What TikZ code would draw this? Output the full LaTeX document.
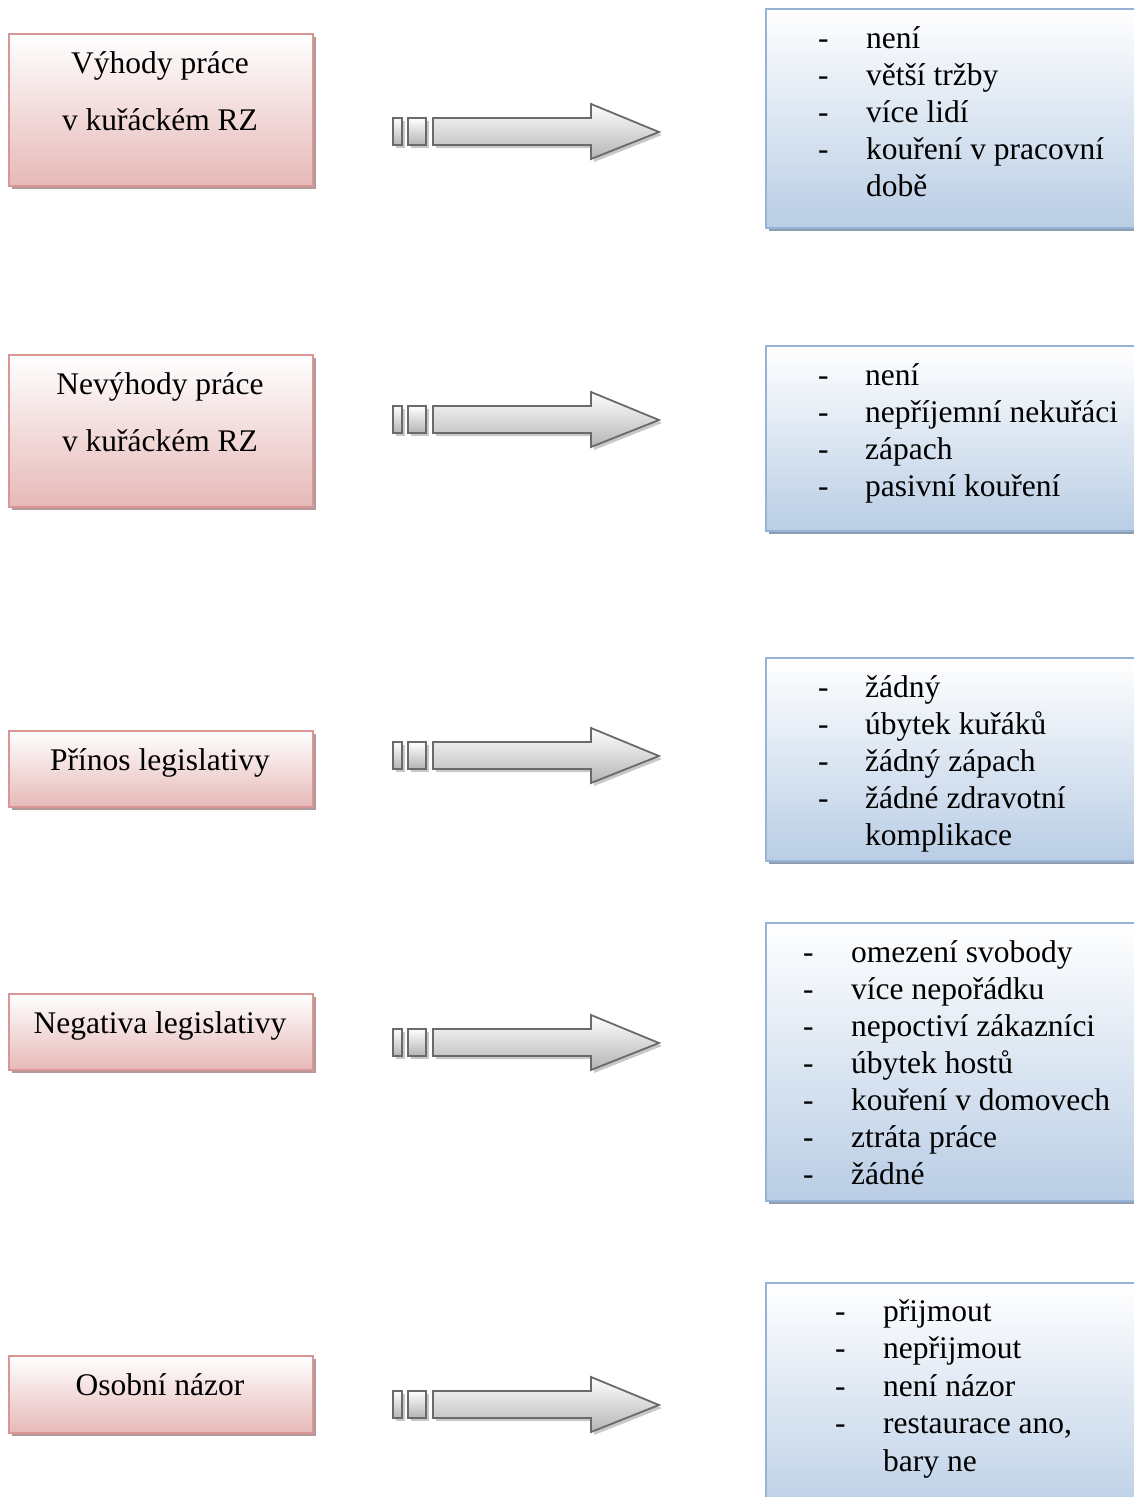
\documentclass[tikz,border=0pt]{standalone}
\usepackage{fontspec}
\setmainfont{Liberation Serif}
\usetikzlibrary{shadows}
\definecolor{pinkB}{HTML}{E6B9B8}
\definecolor{pinkD}{HTML}{D99694}
\definecolor{pinkS}{HTML}{B39A9A}
\definecolor{blueB}{HTML}{B9CDE5}
\definecolor{blueD}{HTML}{95B3D7}
\definecolor{blueS}{HTML}{8E9DB0}
\definecolor{arrD}{HTML}{6A6A6A}
\definecolor{arrB}{HTML}{B4B4B4}
\definecolor{arrS}{HTML}{C8C8C8}
\newcommand\ltxt{\fontsize{31.5}{57}\selectfont}
\newcommand\rtxt{\fontsize{31.5}{37}\selectfont}
\newcommand\rtxtb{\fontsize{31.5}{37.5}\selectfont}
\begin{document}
\begin{tikzpicture}[x=1pt,y=-1pt,
  lbox/.style={draw=pinkD, line width=2pt, top color=white, bottom color=pinkB,
    anchor=north west, inner sep=0pt, minimum width=304pt,
    drop shadow={shadow xshift=3pt, shadow yshift=-3pt, fill=pinkS, opacity=1}},
  rbox/.style={draw=blueD, line width=2pt, top color=white, bottom color=blueB,
    anchor=north west, inner sep=0pt, minimum width=390pt,
    drop shadow={shadow xshift=3pt, shadow yshift=-3pt, fill=blueS, opacity=1}},
  ltext/.style={anchor=base, inner sep=0pt, font=\ltxt},
  rtext/.style={anchor=base west, inner sep=0pt, font=\rtxt},
  arr/.style={draw=arrD, line width=1.8pt, top color=white, bottom color=arrB,
    drop shadow={shadow xshift=3pt, shadow yshift=-3pt, fill=arrS, opacity=1}},
  barrow/.pic={
    \path[arr] (393,-14) rectangle (402,13);
    \path[arr] (408,-14) rectangle (426,13);
    \path[arr] (433,-14) -- (591,-14) -- (591,-28) -- (659,0) -- (591,27)
      -- (591,13) -- (433,13) -- cycle;
  }]
\clip (0,0) rectangle (1134,1497);
\fill[white] (0,0) rectangle (1134,1497);

% left boxes
\node[lbox, minimum height=152pt] (l1) at (8,33) {};
\node[lbox, minimum height=152pt] (l2) at (8,354) {};
\node[lbox, minimum height=76pt] (l3) at (8,730) {};
\node[lbox, minimum height=76pt] (l4) at (8,993) {};
\node[lbox, minimum height=77pt] (l5) at (8,1355) {};

\node[ltext] (t1) at (160,73) {\begin{tabular}[t]{@{}c@{}}Výhody práce\\v kuřáckém RZ\end{tabular}};
\node[ltext] (t2) at (160,394) {\begin{tabular}[t]{@{}c@{}}Nevýhody práce\\v kuřáckém RZ\end{tabular}};
\node[ltext] (t3) at (160,770) {Přínos legislativy};
\node[ltext] (t4) at (160,1033) {Negativa legislativy};
\node[ltext] (t5) at (160,1395) {Osobní názor};

% arrows
\pic (a1) at (0,132) {barrow};
\pic (a2) at (0,420) {barrow};
\pic (a3) at (0,756) {barrow};
\pic (a4) at (0,1043) {barrow};
\pic (a5) at (0,1405) {barrow};

% right boxes
\node[rbox, minimum height=219pt] (r1) at (765,8) {};
\node[rbox, minimum height=185pt] (r2) at (765,345) {};
\node[rbox, minimum height=203pt] (r3) at (765,657) {};
\node[rbox, minimum height=278pt] (r4) at (765,922) {};
\node[rbox, minimum height=240pt] (r5) at (765,1282) {};

\node[rtext] (s1) at (818,48) {\begin{tabular}[t]{@{}p{48pt}@{}l@{}}
-&není\\ -&větší tržby\\ -&více lidí\\ -&kouření v pracovní\\ &době\end{tabular}};
\node[rtext] (s2) at (818,385) {\begin{tabular}[t]{@{}p{47pt}@{}l@{}}
-&není\\ -&nepříjemní nekuřáci\\ -&zápach\\ -&pasivní kouření\end{tabular}};
\node[rtext] (s3) at (818,697) {\begin{tabular}[t]{@{}p{47pt}@{}l@{}}
-&žádný\\ -&úbytek kuřáků\\ -&žádný zápach\\ -&žádné zdravotní\\ &komplikace\end{tabular}};
\node[rtext] (s4) at (803,962) {\begin{tabular}[t]{@{}p{48pt}@{}l@{}}
-&omezení svobody\\ -&více nepořádku\\ -&nepoctiví zákazníci\\ -&úbytek hostů\\
-&kouření v domovech\\ -&ztráta práce\\ -&žádné\end{tabular}};
\node[rtext, font=\rtxtb] (s5) at (835,1321) {\begin{tabular}[t]{@{}p{48pt}@{}l@{}}
-&přijmout\\ -&nepřijmout\\ -&není názor\\ -&restaurace ano,\\ &bary ne\end{tabular}};
\end{tikzpicture}
\end{document}
